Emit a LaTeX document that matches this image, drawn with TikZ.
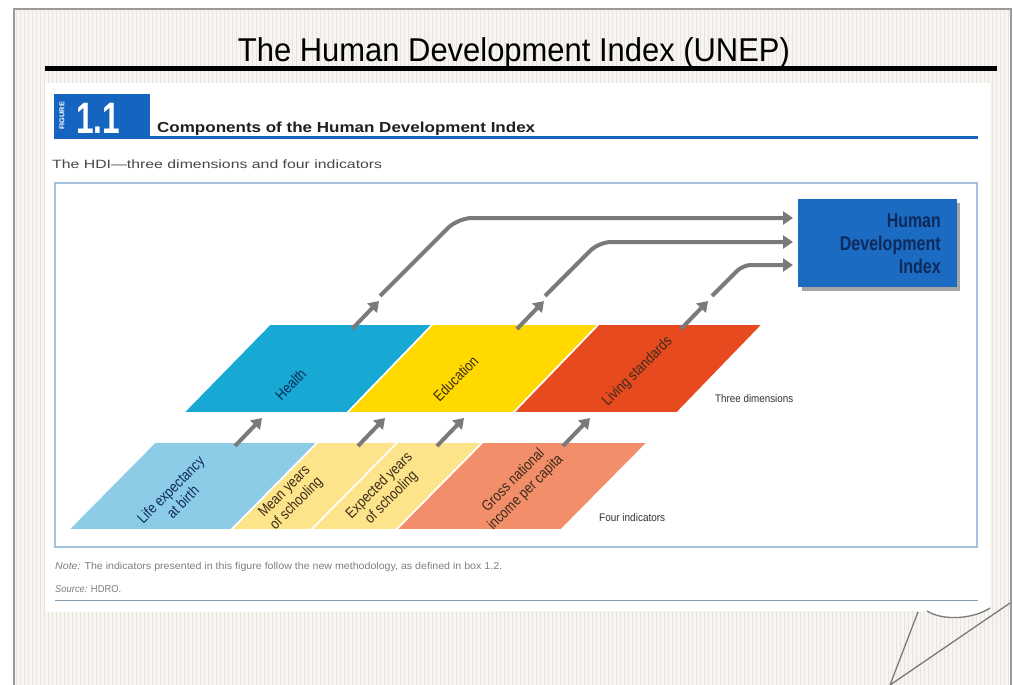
\documentclass[tikz,border=0pt]{standalone}
\usepackage{fontspec}
\setmainfont{Liberation Sans}
\usetikzlibrary{arrows.meta}
\newlength{\fwlen}
\newcommand{\fitw}[2]{\settowidth{\fwlen}{#2}\pgfmathsetmacro{\fwfac}{#1/\fwlen}\scalebox{\fwfac}[1]{#2}}
\newcommand{\cnd}[1]{\scalebox{0.84}[1]{\begin{tabular}{@{}c@{}}#1\end{tabular}}}
\definecolor{bgc}{HTML}{F7F5F1}
\definecolor{gridc}{HTML}{E9E5DE}
\definecolor{framec}{HTML}{9A9A9A}
\definecolor{figblue}{HTML}{1565C0}
\definecolor{hdiblue}{HTML}{1C6BC2}
\definecolor{hdinavy}{HTML}{0E2A5C}
\definecolor{arrowg}{HTML}{7A7A7A}
\definecolor{cHealth}{HTML}{17A9D3}
\definecolor{cEdu}{HTML}{FFD900}
\definecolor{cLiving}{HTML}{E84A1F}
\definecolor{cLife}{HTML}{8DCCE6}
\definecolor{cSchool}{HTML}{FDE38A}
\definecolor{cGross}{HTML}{F28E69}
\definecolor{boxline}{HTML}{A6C3DD}
\definecolor{noteg}{HTML}{7E7E7E}
\definecolor{lbldark}{HTML}{3A2A1A}
\begin{document}
\begin{tikzpicture}[x=1pt,y=-1pt,
  para/.style={draw=white, line width=1.6pt, line join=miter},
  garrow/.style={draw=arrowg, line width=4pt, -{Triangle[length=10pt,width=13pt]}},
  lbl/.style={font=\fontsize{15}{17}\selectfont, inner sep=0pt, rotate=45},
  side/.style={font=\fontsize{11}{11}\selectfont, text=black!80, inner sep=0pt, anchor=base west},
  hdibox/.style={fill=hdiblue, minimum width=159pt, minimum height=88pt, inner sep=0pt},
]
\useasboundingbox (0,0) rectangle (1013,685);
\fill[white] (0,0) rectangle (1013,685);
% background graph paper
\fill[bgc] (14,9) rectangle (1011,685);
\draw[gridc, line width=0.3pt, step=4] (14,9) grid (1011,685);
\draw[framec, line width=1.6pt] (14,685) -- (14,9) -- (1011,9) -- (1011,685);
% title
\node[anchor=base, inner sep=0pt] (title) at (514,62) {\fontsize{33}{33}\selectfont\fitw{552}{The Human Development Index (UNEP)}};
\draw[black, line width=5pt] (45,68.5) -- (997,68.5);
% white page with curl
\fill[white] (45,83) -- (990,83) -- (990,608) .. controls (975,618) and (945,622) .. (927,611) -- (45,612) -- cycle;
\draw[arrowg, line width=1.3pt] (990,608) .. controls (975,618) and (945,622) .. (927,611);
\draw[arrowg, line width=1.3pt] (918,612) -- (890,685) -- (1010,603);
% figure header
\fill[figblue] (54,94) rectangle (150,139);
\draw[figblue, line width=3pt] (150,137.5) -- (978,137.5);
\node[rotate=90, text=white, inner sep=0pt] (figword) at (62,116) {\fontsize{7}{7}\selectfont\fitw{28}{\bfseries FIGURE}};
\node[anchor=base west, text=white, inner sep=0pt] (fignum) at (76,133) {\fontsize{44}{44}\selectfont\fitw{44}{\bfseries 1.1}};
\node[anchor=base west, text=black!88, inner sep=0pt] (heading) at (157,132) {\fontsize{14.5}{14.5}\selectfont\fitw{378}{\bfseries Components of the Human Development Index}};
\node[anchor=base west, text=black!72, inner sep=0pt] (subtitle) at (52,168) {\fontsize{12}{12}\selectfont\fitw{330}{The HDI---three dimensions and four indicators}};
% figure frame
\draw[boxline, line width=2pt] (55,183) rectangle (977,547);
% HDI box
\fill[black!35] (802,203) rectangle (960,291);
\node[hdibox] (hdi) at (877.5,243) {};
\node[anchor=east, align=right, text=hdinavy, inner sep=0pt, font=\fontsize{20}{23}\selectfont\bfseries] (hditxt) at (941,244)
  {\fitw{54}{Human}\\\fitw{101}{Development}\\\fitw{42}{Index}};
% three dimensions
\path[para, fill=cHealth] (270,324) -- (433,324) -- (347,413) -- (183,413) -- cycle;
\path[para, fill=cEdu] (433,324) -- (599,324) -- (513,413) -- (347,413) -- cycle;
\path[para, fill=cLiving] (599,324) -- (763,324) -- (677,413) -- (513,413) -- cycle;
% four indicators
\path[para, fill=cLife] (155,442) -- (318,442) -- (231,530) -- (68,530) -- cycle;
\path[para, fill=cSchool] (318,442) -- (398,442) -- (311,530) -- (231,530) -- cycle;
\path[para, fill=cSchool] (398,442) -- (483,442) -- (396,530) -- (311,530) -- cycle;
\path[para, fill=cGross] (483,442) -- (648,442) -- (561,530) -- (396,530) -- cycle;
% labels
\node[lbl, text=hdinavy] (lHealth) at (292,386) {\cnd{Health}};
\node[lbl, text=lbldark] (lEdu) at (457,380) {\cnd{Education}};
\node[lbl, text=lbldark] (lLiving) at (638,372) {\cnd{Living standards}};
\node[lbl, text=hdinavy] (lLife) at (178,497) {\cnd{Life expectancy\\at birth}};
\node[lbl, text=lbldark] (lMean) at (291,498) {\cnd{Mean years\\of schooling}};
\node[lbl, text=lbldark] (lExp) at (386,492) {\cnd{Expected years\\of schooling}};
\node[lbl, text=lbldark] (lGross) at (520,487) {\cnd{Gross national\\income per capita}};
\node[side] (three) at (715,402) {\fitw{78}{Three dimensions}};
\node[side] (four) at (599,521) {\fitw{66}{Four indicators}};
% small arrows
\coordinate (a1s) at (235,446); \coordinate (a1e) at (262,418);
\coordinate (a2s) at (358,446); \coordinate (a2e) at (385,418);
\coordinate (a3s) at (437,446); \coordinate (a3e) at (464,418);
\coordinate (a4s) at (563,446); \coordinate (a4e) at (590,418);
\coordinate (b1s) at (352,329); \coordinate (b1e) at (379,301);
\coordinate (b2s) at (517,329); \coordinate (b2e) at (544,301);
\coordinate (b3s) at (681,329); \coordinate (b3e) at (708,301);
\foreach \p in {a1,a2,a3,a4,b1,b2,b3} {\draw[garrow] (\p s) -- (\p e);}
% long arrows to HDI
\coordinate (c1s) at (380,296); \coordinate (c1m) at (458,218); \coordinate (c1e) at (793,218);
\coordinate (c2s) at (545,296); \coordinate (c2m) at (599,242); \coordinate (c2e) at (793,242);
\coordinate (c3s) at (712,296); \coordinate (c3m) at (743,265); \coordinate (c3e) at (793,265);
\draw[garrow, rounded corners=14pt] (c1s) -- (c1m) -- (c1e);
\draw[garrow, rounded corners=12pt] (c2s) -- (c2m) -- (c2e);
\draw[garrow, rounded corners=8pt] (c3s) -- (c3m) -- (c3e);
% notes
\node[anchor=base west, text=noteg, inner sep=0pt] (note) at (55,569) {\fontsize{10}{10}\selectfont\fitw{447}{\textit{Note:} The indicators presented in this figure follow the new methodology, as defined in box 1.2.}};
\node[anchor=base west, text=noteg, inner sep=0pt] (source) at (55,592) {\fontsize{10}{10}\selectfont\fitw{66}{\textit{Source:} HDRO.}};
\draw[boxline!80!black, line width=1.3pt] (55,600.5) -- (978,600.5);
\end{tikzpicture}
\end{document}
